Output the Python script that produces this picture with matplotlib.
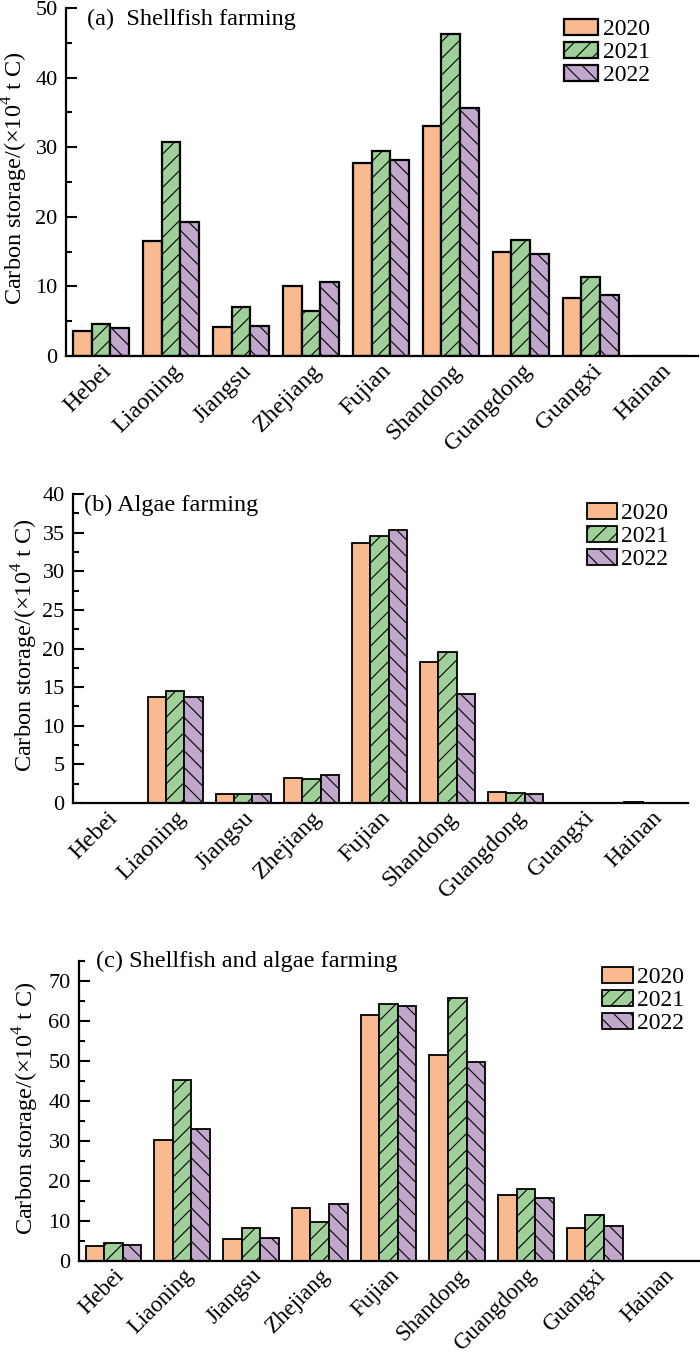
import matplotlib
matplotlib.use('Agg')
import matplotlib.pyplot as plt
import numpy as np
from matplotlib.ticker import MultipleLocator

plt.rcParams['font.family'] = ['Liberation Serif', 'DejaVu Serif']
plt.rcParams['mathtext.fontset'] = 'custom'
plt.rcParams['mathtext.rm'] = 'Liberation Serif'
plt.rcParams['hatch.linewidth'] = 0.8

provinces = ['Hebei', 'Liaoning', 'Jiangsu', 'Zhejiang', 'Fujian',
             'Shandong', 'Guangdong', 'Guangxi', 'Hainan']
years = ['2020', '2021', '2022']

shell_2020 = [3.6, 16.5, 4.1, 10.0, 27.7, 33.1, 14.9, 8.4, 0.0]
shell_2021 = [4.6, 30.8, 7.0, 6.5, 29.5, 46.2, 16.7, 11.4, 0.0]
shell_2022 = [4.0, 19.3, 4.3, 10.6, 28.2, 35.6, 14.6, 8.8, 0.0]

algae_2020 = [0.0, 13.7, 1.2, 3.2, 33.7, 18.3, 1.4, 0.0, 0.1]
algae_2021 = [0.0, 14.5, 1.2, 3.05, 34.6, 19.6, 1.3, 0.0, 0.0]
algae_2022 = [0.0, 13.75, 1.2, 3.6, 35.4, 14.05, 1.2, 0.0, 0.0]

total_2020 = [3.75, 30.3, 5.4, 13.3, 61.5, 51.5, 16.4, 8.3, 0.1]
total_2021 = [4.6, 45.3, 8.3, 9.7, 64.2, 65.8, 18.1, 11.4, 0.0]
total_2022 = [4.1, 33.0, 5.7, 14.3, 63.7, 49.7, 15.8, 8.8, 0.0]

colors = ['#F9BA8F', '#9FD09A', '#C1A7CC']
hatches = ['', '//', '\\\\']

W, H = 700, 1354
fig = plt.figure(figsize=(W / 100, H / 100), dpi=100)


def make_axes(left, right, top, bottom):
    return fig.add_axes([left / W, (H - bottom) / H, (right - left) / W, (bottom - top) / H])


panels = [
    dict(box=(66, 698, 8, 356), data=[shell_2020, shell_2021, shell_2022], ylim=50,
         major=10, minor=5, title='(a)  Shellfish farming', tpos=(0.033, 0.968),
         ylab=(-0.057, 0.51), leg=((564 - 66) / 632, (356 - 19) / 348), hl=1.45,
         lw=1.6, xfs=17.5),
    dict(box=(73, 688, 494, 803), data=[algae_2020, algae_2021, algae_2022], ylim=40,
         major=5, minor=2.5, title='(b) Algae farming', tpos=(0.018, 0.963),
         ylab=(-0.054, 0.51), leg=((587 - 73) / 615, (803 - 503) / 309), hl=1.25,
         lw=1.3, xfs=17.5),
    dict(box=(79, 700, 961, 1261), data=[total_2020, total_2021, total_2022], ylim=75,
         major=10, minor=5, title='(c) Shellfish and algae farming', tpos=(0.027, 0.997),
         ylab=(-0.061, 0.51), leg=((602 - 79) / 621, (1261 - 967) / 300), hl=1.3,
         lw=1.3, xfs=16.5),
]

x = np.arange(len(provinces))
bw = 0.27

for p in panels:
    ax = make_axes(*p['box'])
    handles = []
    for i, vals in enumerate(p['data']):
        b = ax.bar(x + (i - 1) * bw, vals, bw, color=colors[i], edgecolor='black',
                   linewidth=p['lw'], hatch=hatches[i], label=years[i])
        handles.append(b)
    ax.set_xlim(-0.5, 8.53)
    ax.set_ylim(0, p['ylim'])
    ax.yaxis.set_major_locator(MultipleLocator(p['major']))
    ax.yaxis.set_minor_locator(MultipleLocator(p['minor']))
    for s in ['top', 'right']:
        ax.spines[s].set_visible(False)
    for s in ['left', 'bottom']:
        ax.spines[s].set_linewidth(1.6)
    ax.tick_params(axis='y', which='major', direction='in', length=8, width=1.5,
                   labelsize=16, pad=6)
    ax.tick_params(axis='y', which='minor', direction='in', length=4.5, width=1.5)
    ax.tick_params(axis='x', length=0, labelsize=p['xfs'], pad=3)
    ax.set_xticks(x)
    ax.set_xticklabels(provinces, rotation=45, ha='right', rotation_mode='anchor')
    ax.set_ylabel(r'Carbon storage/($\times$10$^{4}$ t C)', fontsize=17.5)
    ax.yaxis.set_label_coords(*p['ylab'])
    ax.text(p['tpos'][0], p['tpos'][1], p['title'], transform=ax.transAxes,
            fontsize=17.5, ha='left', va='center')
    ax.legend(handles=handles, loc='upper left', bbox_to_anchor=p['leg'],
              frameon=False, fontsize=17, handlelength=p['hl'],
              handleheight=0.65, handletextpad=0.2, labelspacing=0.08,
              borderpad=0, borderaxespad=0)

fig.savefig('out.png', dpi=100)
